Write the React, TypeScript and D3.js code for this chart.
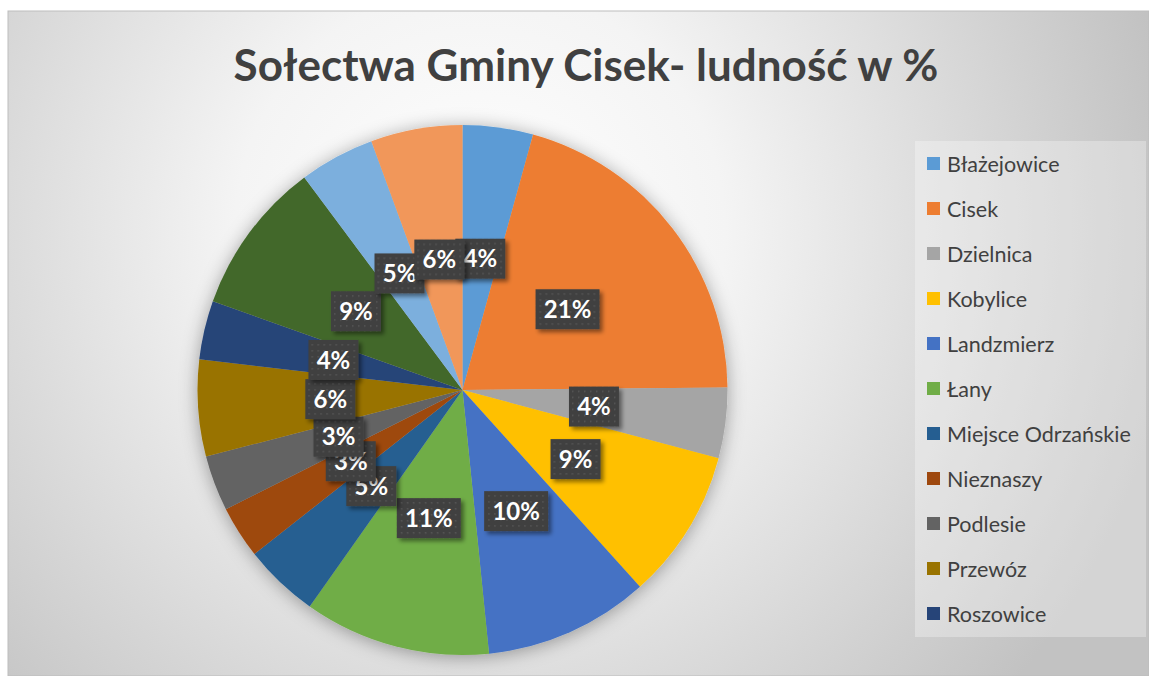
import * as d3 from "d3";

const names = [
  "Błażejowice",
  "Cisek",
  "Dzielnica",
  "Kobylice",
  "Landzmierz",
  "Łany",
  "Miejsce Odrzańskie",
  "Nieznaszy",
  "Podlesie",
  "Przewóz",
  "Roszowice",
  "Steblów",
  "Sukowice",
  "Większyce",
];
const shares = [4.3, 20.6, 4.3, 9.2, 10.1, 11.4, 4.6, 3.2, 3.4, 5.9, 3.6, 9.4, 4.6, 5.6];
const colors = [
  "#5b9bd5", "#ed7d31", "#a5a5a5", "#ffc000", "#4472c4", "#70ad47",
  "#255e91", "#9e480e", "#636363", "#997300", "#264478", "#43682b",
  "#7cafdd", "#f1975a",
];
// legend in the original only shows the first 11 entries
const legendCount = 11;

type Slice = { name: string; v: number; color: string };
const rows: Slice[] = names.map((n, i) => ({ name: n, v: shares[i], color: colors[i] }));

export default function App() {
  const W = 1149;
  const H = 676;
  const cx = 462.5;
  const cy = 390;
  const R = 265;
  const total = d3.sum(shares);
  const fmt = d3.format(".0%");

  const pie = d3.pie<Slice>().sort(null).value((d) => d.v);
  const arcs = pie(rows);
  const arc = d3.arc<d3.PieArcDatum<Slice>>().innerRadius(0).outerRadius(R);

  const legendY = d3.scalePoint<number>()
    .domain(d3.range(legendCount))
    .range([164, 614]);

  const font = "Lato, 'Open Sans', sans-serif";

  return (
    <svg width={W} height={H} style={{ position: "absolute", left: 0, top: 0 }}>
      <defs>
        <radialGradient id="bg" gradientUnits="userSpaceOnUse" cx={480} cy={230} r={700}>
          <stop offset="0" stopColor="#ffffff" />
          <stop offset="0.35" stopColor="#f4f4f4" />
          <stop offset="1" stopColor="#c2c2c2" />
        </radialGradient>
        <filter id="pieShadow" x="-20%" y="-20%" width="140%" height="140%">
          <feDropShadow dx={0} dy={2} stdDeviation={9} floodColor="#000" floodOpacity={0.35} />
        </filter>
        <filter id="lblShadow" x="-20%" y="-20%" width="150%" height="160%">
          <feDropShadow dx={3} dy={3} stdDeviation={2} floodColor="#000" floodOpacity={0.45} />
        </filter>
        <pattern id="dots" width={6} height={6} patternUnits="userSpaceOnUse">
          <rect width={6} height={6} fill="#404040" />
          <rect x={2} y={2} width={1.5} height={1.5} fill="#575757" />
        </pattern>
      </defs>

      <rect x={0} y={0} width={W} height={H} fill="#ffffff" />
      <rect x={8} y={11} width={W - 8} height={H - 11} fill="url(#bg)" stroke="#bdbdbd" strokeWidth={1} />

      <text
        x={586}
        y={81}
        textAnchor="middle"
        fontFamily={font}
        fontWeight={700}
        fontSize={44}
        fill="#404040"
      >
        Sołectwa Gminy Cisek- ludność w %
      </text>

      <g transform={`translate(${cx},${cy})`}>
        <g filter="url(#pieShadow)">
          {arcs.map((a, i) => (
            <path key={i} d={arc(a) ?? ""} fill={a.data.color} />
          ))}
        </g>
        {arcs.map((a, i) => {
          const [lx, ly] = arc.centroid(a);
          const txt = fmt(a.data.v / total);
          const bw = 22 + 14 * txt.length;
          const bh = 40;
          return (
            <g key={i} transform={`translate(${lx},${ly})`}>
              <rect
                x={-bw / 2}
                y={-bh / 2}
                width={bw}
                height={bh}
                fill="url(#dots)"
                filter="url(#lblShadow)"
              />
              <text
                textAnchor="middle"
                dy="0.36em"
                fontFamily={font}
                fontWeight={700}
                fontSize={24}
                fill="#ffffff"
              >
                {txt}
              </text>
            </g>
          );
        })}
      </g>

      <rect x={915} y={141} width={231} height={496} fill="#ffffff" fillOpacity={0.3} />
      {rows.slice(0, legendCount).map((d, i) => (
        <g key={d.name} transform={`translate(927,${legendY(i)})`}>
          <rect x={0} y={-7} width={13} height={13} fill={d.color} />
          <text
            x={20}
            dy="0.35em"
            fontFamily={font}
            fontSize={21.5}
            fill="#404040"
          >
            {d.name}
          </text>
        </g>
      ))}
    </svg>
  );
}
